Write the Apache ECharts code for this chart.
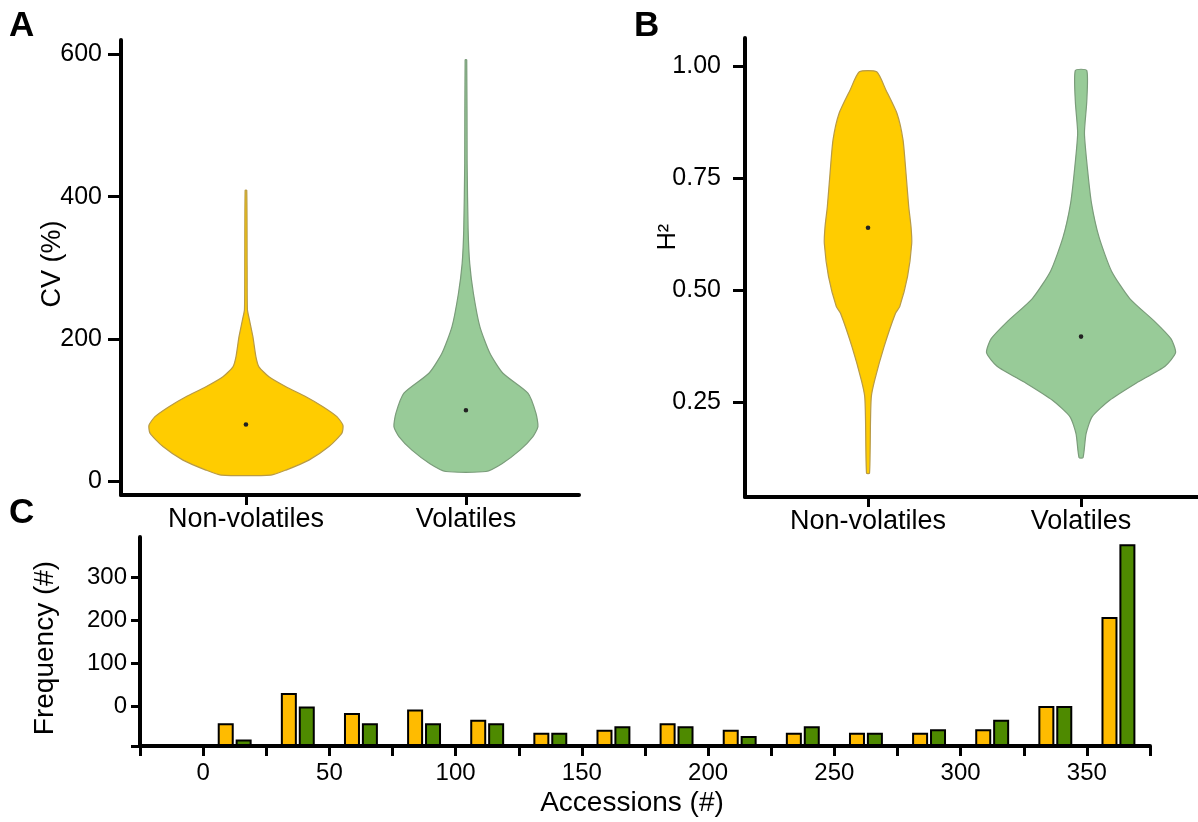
<!DOCTYPE html>
<html>
<head>
<meta charset="utf-8">
<script src="https://cdn.jsdelivr.net/npm/echarts@6/dist/echarts.min.js"></script>
<style>
  html, body { margin: 0; padding: 0; background: #fff; }
  #main { width: 1198px; height: 822px; }
</style>
</head>
<body>
<div id="main"></div>
<script>
// groups shown in panels A and B
const groups = ['Non-volatiles', 'Volatiles'];

// A: CV (%) violin outlines, [CV value, density (arbitrary units)]
const cvNonVolatile = [[9, 25], [16, 40], [30, 63], [49, 83], [68, 96], [79, 97], [91, 91], [105, 77], [119, 60],
  [133, 40], [147, 23], [161, 13], [175, 10], [203, 7], [227, 3.5], [241, 1.5], [300, 1.2], [409, 0.8]];
const cvVolatile = [[14, 20], [25, 36], [44, 54], [63, 67], [77, 72], [96, 70], [124, 62], [152, 37], [180, 24],
  [217, 14], [264, 7.5], [306, 3.8], [353, 2.2], [447, 1.2], [592, 0.8]];
const cvMeans = [80, 100];
const cvTicks = [0, 200, 400, 600];

// B: H2 violin outlines, [H2 value, density (arbitrary units)]
const h2NonVolatile = [[0.091, 1.5], [0.21, 2.5], [0.262, 3.3], [0.299, 6.7], [0.373, 16], [0.448, 27.5], [0.463, 31.7],
  [0.53, 39.5], [0.604, 43.7], [0.641, 43], [0.686, 40.7], [0.76, 38], [0.835, 35], [0.894, 29], [0.946, 18], [0.987, 8.7]];
const h2Volatile = [[0.126, 2], [0.179, 5], [0.217, 11], [0.254, 28.6], [0.292, 55], [0.33, 84], [0.36, 94.5], [0.391, 90],
  [0.429, 74], [0.481, 48.7], [0.542, 30.5], [0.618, 18], [0.693, 10.5], [0.769, 6.5], [0.85, 3.4], [0.92, 5.7], [0.99, 5.7]];
const h2Means = [0.639, 0.396];
const h2Ticks = [0.25, 0.5, 0.75, 1.0];

// C: histogram of accessions
const accessionBins = [12.5, 37.5, 62.5, 87.5, 112.5, 137.5, 162.5, 187.5, 212.5, 237.5, 262.5, 287.5, 312.5, 337.5, 362.5];
const freqNonVolatile = [53, 123, 77, 85, 61, 31, 38, 53, 38, 31, 31, 31, 39, 93, 300];
const freqVolatile = [15, 92, 53, 53, 53, 31, 46, 46, 23, 46, 31, 39, 61, 93, 469];
// the printed y labels of panel C sit above the bar baseline
const freqTickLabels = [0, 100, 200, 300];
const freqLabelShift = 93;

const font = 'Liberation Sans, Arial, Helvetica, sans-serif';
const yellow = '#FFCC00', yellowEdge = '#B89A45';
const sage = '#98CB98', sageEdge = '#7A9C7A';

function line() {
  return { show: true, onZero: false, lineStyle: { color: '#000', width: 4 } };
}

function violinSeries(idx, profiles, means, scale, fills, edges) {
  return {
    type: 'custom',
    xAxisIndex: idx,
    yAxisIndex: idx,
    data: means.map((m, i) => [i + 1, m]),
    renderItem: function (params, api) {
      const i = params.dataIndex;
      const cx = api.value(0);
      const prof = profiles[i];
      const right = prof.map(p => api.coord([cx + p[1] * scale, p[0]]));
      const left = prof.slice().reverse().map(p => api.coord([cx - p[1] * scale, p[0]]));
      const dot = api.coord([cx, api.value(1)]);
      return {
        type: 'group',
        children: [
          { type: 'polygon', shape: { points: right.concat(left), smooth: 0.2 },
            style: { fill: fills[i], stroke: edges[i], lineWidth: 1.2 } },
          { type: 'circle', shape: { cx: dot[0], cy: dot[1], r: 2.3 }, style: { fill: '#222' } }
        ]
      };
    }
  };
}

const chart = echarts.init(document.getElementById('main'));

chart.setOption({
  animation: false,
  textStyle: { fontFamily: font, color: '#000' },
  grid: [
    { left: 121, top: 40, width: 458, height: 455 },
    { left: 745, top: 38, width: 453, height: 459 },
    { left: 140, top: 537, width: 1010, height: 209 }
  ],
  xAxis: [
    {
      type: 'value', gridIndex: 0, min: 0.432, max: 2.514,
      axisLine: line(), splitLine: { show: false },
      axisTick: { show: true, customValues: [1, 2], length: 10, lineStyle: { width: 3, color: '#000' } },
      axisLabel: { customValues: [1, 2], formatter: v => groups[v - 1], fontSize: 27, margin: 11, color: '#000' }
    },
    {
      type: 'value', gridIndex: 1, min: 0.4225, max: 2.549,
      axisLine: line(), splitLine: { show: false },
      axisTick: { show: true, customValues: [1, 2], length: 10, lineStyle: { width: 3, color: '#000' } },
      axisLabel: { customValues: [1, 2], formatter: v => groups[v - 1], fontSize: 27, margin: 11, color: '#000' }
    },
    {
      type: 'value', gridIndex: 2, min: -25, max: 375, interval: 25,
      axisLine: line(), splitLine: { show: false },
      axisTick: { show: true, length: 10, lineStyle: { width: 3, color: '#000' } },
      axisLabel: {
        formatter: v => (v >= 0 && v <= 350 && v % 50 === 0 ? String(v) : ''),
        fontSize: 24, margin: 15, color: '#000', showMinLabel: true, showMaxLabel: true
      }
    }
  ],
  yAxis: [
    {
      type: 'value', gridIndex: 0, min: -19, max: 620,
      axisLine: line(), splitLine: { show: false },
      axisTick: { show: true, customValues: cvTicks, length: 13, lineStyle: { width: 3, color: '#000' } },
      axisLabel: { customValues: cvTicks, fontSize: 25, margin: 19, color: '#000' }
    },
    {
      type: 'value', gridIndex: 1, min: 0.038, max: 1.0625,
      axisLine: line(), splitLine: { show: false },
      axisTick: { show: true, customValues: h2Ticks, length: 12, lineStyle: { width: 3, color: '#000' } },
      axisLabel: { customValues: h2Ticks, formatter: v => v.toFixed(2), fontSize: 25, margin: 24, color: '#000' }
    },
    {
      type: 'value', gridIndex: 2, min: 0, max: 486,
      axisLine: line(), splitLine: { show: false },
      axisTick: {
        show: true, length: 9, lineStyle: { width: 3, color: '#000' },
        customValues: [0].concat(freqTickLabels.map(t => t + freqLabelShift))
      },
      axisLabel: {
        customValues: freqTickLabels.map(t => t + freqLabelShift),
        formatter: v => String(v - freqLabelShift), fontSize: 24, margin: 13, color: '#000'
      }
    }
  ],
  graphic: [
    { type: 'text', x: 9, y: 9, style: { text: 'A', fontSize: 35, fontWeight: 'bold', fontFamily: font, fill: '#000' } },
    { type: 'text', x: 634, y: 9, style: { text: 'B', fontSize: 35, fontWeight: 'bold', fontFamily: font, fill: '#000' } },
    { type: 'text', x: 9, y: 496, style: { text: 'C', fontSize: 35, fontWeight: 'bold', fontFamily: font, fill: '#000' } },
    { type: 'text', x: 53, y: 264, rotation: Math.PI / 2,
      style: { text: 'CV (%)', fontSize: 27, fontFamily: font, fill: '#000', align: 'center', verticalAlign: 'middle' } },
    { type: 'text', x: 668, y: 237, rotation: Math.PI / 2,
      style: { text: 'H²', fontSize: 25, fontFamily: font, fill: '#000', align: 'center', verticalAlign: 'middle' } },
    { type: 'text', x: 45, y: 648, rotation: Math.PI / 2,
      style: { text: 'Frequency (#)', fontSize: 28, fontFamily: font, fill: '#000', align: 'center', verticalAlign: 'middle' } },
    { type: 'text', x: 632, y: 803,
      style: { text: 'Accessions (#)', fontSize: 28, fontFamily: font, fill: '#000', align: 'center', verticalAlign: 'middle' } }
  ],
  series: [
    violinSeries(0, [cvNonVolatile, cvVolatile], cvMeans, 1 / 220, [yellow, sage], [yellowEdge, sageEdge]),
    violinSeries(1, [h2NonVolatile, h2Volatile], h2Means, 1 / 213, [yellow, sage], [yellowEdge, sageEdge]),
    {
      type: 'bar', name: 'Non-volatiles', xAxisIndex: 2, yAxisIndex: 2,
      data: accessionBins.map((b, i) => [b, freqNonVolatile[i]]),
      barWidth: 16, barGap: '12%',
      itemStyle: { color: '#FFBB00', borderColor: '#000', borderWidth: 2 }
    },
    {
      type: 'bar', name: 'Volatiles', xAxisIndex: 2, yAxisIndex: 2,
      data: accessionBins.map((b, i) => [b, freqVolatile[i]]),
      barWidth: 16, barGap: '12%',
      itemStyle: { color: '#4E8A00', borderColor: '#000', borderWidth: 2 }
    }
  ]
});
</script>
</body>
</html>
